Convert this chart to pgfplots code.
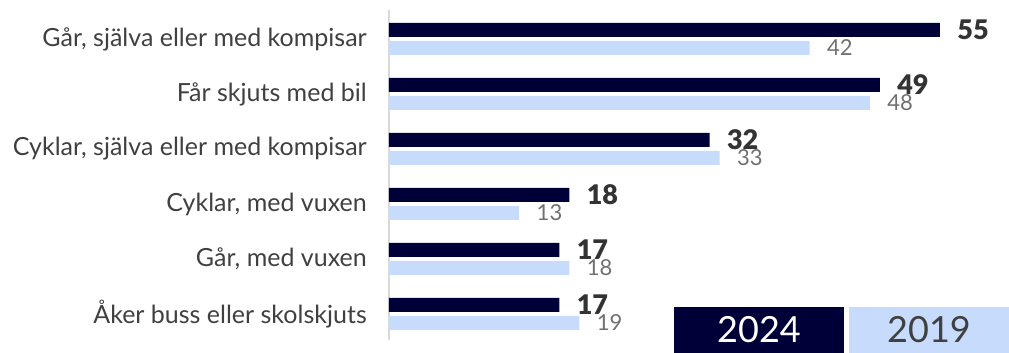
\documentclass[border=0pt]{standalone}
\usepackage{fontspec}
\setmainfont{Lato}
\newfontfamily\heavy{Lato Black}
\usepackage{pgfplots}
\pgfplotsset{compat=1.18}
\definecolor{navy}{HTML}{000038}
\definecolor{lblue}{HTML}{C7DCFC}
\definecolor{lab}{HTML}{404040}
\definecolor{valdark}{HTML}{333333}
\definecolor{valgray}{HTML}{707070}
\definecolor{axgray}{HTML}{D9D9D9}
\begin{document}
\begin{tikzpicture}
\begin{axis}[
  name=ax,
  scale only axis,
  width=620pt, height=330pt,
  xmin=0, xmax=61.9,
  ymin=-0.473, ymax=5.527,
  xbar, bar width=14pt,
  axis x line=none,
  axis y line*=left,
  y axis line style={axgray, line width=1.5pt},
  ytick={0,1,2,3,4,5},
  yticklabels={Åker buss eller skolskjuts, {Går, med vuxen}, {Cyklar, med vuxen}, {Cyklar, själva eller med kompisar}, Får skjuts med bil, {Går, själva eller med kompisar}},
  yticklabel style={font=\fontsize{25}{28}\selectfont, text=lab, anchor=east, inner sep=0pt, xshift=-22pt},
  major tick length=0pt,
  nodes near coords,
  /pgf/number format/assume math mode=true,
  clip=false,
]
\addplot[fill=navy, draw=none, bar shift=9pt,
  nodes near coords style={font=\fontsize{27}{30}\selectfont\heavy, text=valdark, anchor=west, xshift=14pt}]
  coordinates {(17,0) (17,1) (18,2) (32,3) (49,4) (55,5)};
\addplot[fill=lblue, draw=none, bar shift=-9pt,
  nodes near coords style={font=\fontsize{22}{25}\selectfont, text=valgray, anchor=west, xshift=14pt}]
  coordinates {(19,0) (18,1) (13,2) (33,3) (48,4) (42,5)};
\end{axis}
\fill[navy] ([shift={(285pt,33pt)}]ax.south west) rectangle ([shift={(455pt,-13pt)}]ax.south west);
\fill[lblue] ([shift={(460pt,33pt)}]ax.south west) rectangle ([shift={(620pt,-13pt)}]ax.south west);
\node[text=white, font=\fontsize{36}{40}\selectfont, inner sep=0pt] at ([shift={(370pt,10pt)}]ax.south west) {2024};
\node[text=lab, font=\fontsize{36}{40}\selectfont, inner sep=0pt] at ([shift={(540pt,10pt)}]ax.south west) {2019};
\pgfresetboundingbox
\path ([shift={(-389pt,-13pt)}]ax.south west) rectangle ([shift={(620pt,340pt)}]ax.south west);
\end{tikzpicture}
\end{document}
